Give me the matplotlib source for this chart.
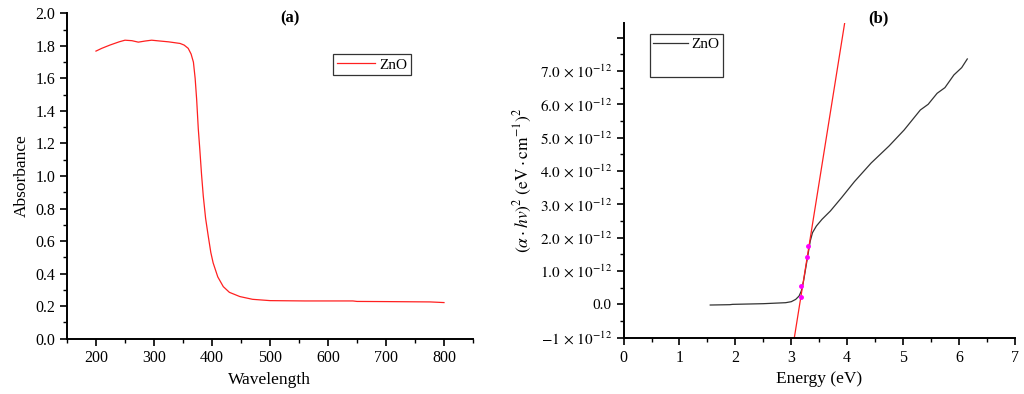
import matplotlib

matplotlib.use("Agg")
import matplotlib.pyplot as plt  # noqa: E402
from matplotlib.ticker import FuncFormatter, MultipleLocator  # noqa: E402

plt.rcParams["font.family"] = ["Liberation Serif", "DejaVu Serif"]
plt.rcParams["mathtext.fontset"] = "stix"

# (a) UV-vis absorbance of ZnO
WL = [200, 210, 224, 240, 250, 262, 273, 285, 296, 310, 325, 345, 352, 359,
      364, 368, 371, 373.6, 376.4, 379, 382, 385, 389, 393.6, 398, 402, 410,
      419.5, 430, 448, 470, 500, 560, 643, 650, 700, 776, 800]
ABS = [1.768, 1.785, 1.805, 1.825, 1.835, 1.832, 1.823, 1.83, 1.835, 1.83,
       1.825, 1.815, 1.805, 1.785, 1.75, 1.70, 1.60, 1.47, 1.29, 1.165, 1.01,
       0.877, 0.74, 0.63, 0.53, 0.466, 0.38, 0.32, 0.285, 0.259, 0.242, 0.234,
       0.232, 0.232, 0.229, 0.228, 0.226, 0.222]

# (b) Tauc plot, y in units of 1e-12
E = [1.55, 1.9, 1.95, 2.5, 2.9, 3.0, 3.08, 3.14, 3.18, 3.22, 3.26, 3.30, 3.34,
     3.38, 3.45, 3.55, 3.7, 3.9, 4.13, 4.43, 4.75, 5.02, 5.31, 5.45, 5.61, 5.75,
     5.91, 6.05, 6.15]
TAUC = [-0.02, -0.01, 0.0, 0.02, 0.05, 0.08, 0.15, 0.25, 0.4, 0.7, 1.1, 1.5,
        1.9, 2.15, 2.35, 2.55, 2.8, 3.2, 3.68, 4.24, 4.75, 5.23, 5.83, 6.0,
        6.33, 6.5, 6.88, 7.1, 7.36]
FIT_E = [3.055, 3.955]
FIT_Y = [-1.0, 8.43]
PTS_E = [3.17, 3.18, 3.29, 3.295]
PTS_Y = [0.22, 0.56, 1.42, 1.74]
SCALE = 1e-12

fig = plt.figure(figsize=(10.24, 3.94), dpi=100)
axa = fig.add_axes([0.0654, 0.1404, 0.3965, 0.8257])
axb = fig.add_axes([0.609, 0.1429, 0.382, 0.798])

for ax in (axa, axb):
    for s in ("top", "right"):
        ax.spines[s].set_visible(False)
    for s in ("left", "bottom"):
        ax.spines[s].set_linewidth(1.4)
    ax.tick_params(which="major", direction="out", length=5, width=1.2, labelsize=11.5)
    ax.tick_params(which="minor", direction="out", length=3, width=1.0)

# panel (a)
axa.plot(WL, ABS, color="#ff2020", lw=0.9, label="ZnO")
axa.set_xlim(150, 850)
axa.set_ylim(0, 2.0)
axa.xaxis.set_major_locator(MultipleLocator(100))
axa.xaxis.set_minor_locator(MultipleLocator(50))
axa.yaxis.set_major_locator(MultipleLocator(0.2))
axa.yaxis.set_minor_locator(MultipleLocator(0.1))
axa.yaxis.set_major_formatter(FuncFormatter(lambda v, p: f"{v:.1f}"))
axa.set_xticks([200, 300, 400, 500, 600, 700, 800])
axa.set_xlabel("Wavelength", fontsize=12.5)
axa.set_ylabel("Absorbance", fontsize=12.5)
fig.text(290 / 1024, 1 - 18 / 394, "(a)", fontsize=12, fontweight="bold",
         ha="center", va="center")
leg = axa.legend(loc="upper left", bbox_to_anchor=(0.655, 0.875), fontsize=11,
                 fancybox=False, edgecolor="#333333", framealpha=1,
                 handlelength=2.5, borderpad=0.25, handletextpad=0.3, borderaxespad=0)
leg.get_frame().set_linewidth(0.9)

# panel (b)
axb.plot(E, [v * SCALE for v in TAUC], color="#333333", lw=0.9, label="ZnO")
axb.plot(FIT_E, [v * SCALE for v in FIT_Y], color="#ff2020", lw=0.9)
axb.plot(PTS_E, [v * SCALE for v in PTS_Y], ls="none", marker="o", ms=2.5,
         color="magenta")
axb.set_xlim(0, 7)
axb.set_ylim(-1.0 * SCALE, 8.43 * SCALE)
axb.xaxis.set_major_locator(MultipleLocator(1))
axb.xaxis.set_minor_locator(MultipleLocator(0.5))
axb.yaxis.set_major_locator(MultipleLocator(1e-12))
axb.yaxis.set_minor_locator(MultipleLocator(0.5e-12))


def tauc_fmt(v, pos):
    k = round(v / SCALE)
    if k == 0:
        return "0.0"
    if k == -1:
        return r"$-1\,\times\,10^{-12}$"
    if k >= 8:
        return ""
    return rf"${k:.1f}\,\times\,10^{{-12}}$"


axb.yaxis.set_major_formatter(FuncFormatter(tauc_fmt))
axb.tick_params(axis="y", labelsize=11)
axb.set_xlabel("Energy (eV)", fontsize=12.5)
axb.set_ylabel(r"$(\alpha\cdot hv)^2\ (\mathrm{eV}\cdot\mathrm{cm}^{-1})^2$", fontsize=12.5)
fig.text(878 / 1024, 1 - 18 / 394, "(b)", fontsize=12, fontweight="bold",
         ha="center", va="center")
legb = axb.legend([axb.lines[0], plt.Line2D([], [], color="none")], ["ZnO", " "],
                  loc="upper left", bbox_to_anchor=(0.068, 0.965), fontsize=11,
                  fancybox=False, edgecolor="#333333", framealpha=1,
                  handlelength=2.3, borderpad=0.2, handletextpad=0.2,
                  labelspacing=0.6, borderaxespad=0)
legb.get_frame().set_linewidth(0.9)

fig.savefig("out.png", dpi=100)
